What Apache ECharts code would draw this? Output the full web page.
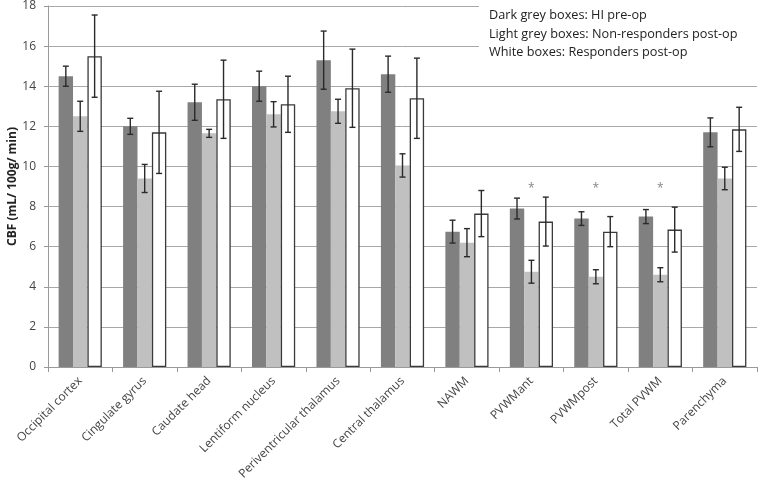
<!DOCTYPE html>
<html>
<head>
<meta charset="utf-8">
<script src="https://cdn.jsdelivr.net/npm/echarts@6/dist/echarts.min.js"></script>
<style>html,body{margin:0;padding:0;background:#fff}#c{width:760px;height:480px}</style>
</head>
<body>
<div id="c"></div>
<script>
var categories = ['Occipital cortex','Cingulate gyrus','Caudate head','Lentiform nucleus','Periventricular thalamus','Central thalamus','NAWM','PVWMant','PVWMpost','Total PVWM','Parenchyma'];
var preOp      = [14.5, 12.0, 13.2, 14.0, 15.3, 14.6, 6.75, 7.9, 7.4, 7.5, 11.7];
var preOpErr   = [0.5, 0.4, 0.9, 0.75, 1.45, 0.9, 0.57, 0.52, 0.34, 0.35, 0.72];
var nonResp    = [12.5, 9.4, 11.65, 12.6, 12.75, 10.05, 6.2, 4.75, 4.5, 4.6, 9.4];
var nonRespErr = [0.75, 0.7, 0.2, 0.63, 0.6, 0.58, 0.7, 0.57, 0.35, 0.35, 0.56];
var resp       = [15.5, 11.7, 13.35, 13.1, 13.9, 13.4, 7.65, 7.25, 6.75, 6.85, 11.85];
var respErr    = [2.05, 2.05, 1.95, 1.4, 1.95, 2.0, 1.15, 1.22, 0.75, 1.12, 1.1];
var significant = [0,0,0,0,0,0,0,1,1,1,0];
var asteriskLevel = 8.9;
var legendLines = ['Dark grey boxes: HI pre-op','Light grey boxes: Non-responders post-op','White boxes: Responders post-op'];

var CAT_GAP = 0.33;
function errSeries(vals, errs, idx){
  return {
    type:'custom', z:10, silent:true,
    data: categories.map(function(c,i){return [i, vals[i]-errs[i], vals[i]+errs[i]];}),
    encode:{x:0, y:[1,2]},
    renderItem:function(params, api){
      var i = api.value(0);
      var x = api.coord([i,0])[0];
      var band = api.size([1,0])[0];
      var bw = band*(1-CAT_GAP)/3;
      var cx = x + (idx-1)*bw;
      var lo = api.coord([i, api.value(1)])[1];
      var hi = api.coord([i, api.value(2)])[1];
      var st = {stroke:'#2a2a2a', lineWidth:1.4};
      return {type:'group', children:[
        {type:'line', shape:{x1:cx,y1:lo,x2:cx,y2:hi}, style:st},
        {type:'line', shape:{x1:cx-3,y1:lo,x2:cx+3,y2:lo}, style:st},
        {type:'line', shape:{x1:cx-3,y1:hi,x2:cx+3,y2:hi}, style:st}
      ]};
    }
  };
}

var chart = echarts.init(document.getElementById('c'));
var font = 'Open Sans, Noto Sans, sans-serif';
chart.setOption({
  animation:false,
  textStyle:{fontFamily:font},
  grid:{left:48, right:3, top:6, bottom:113, containLabel:false, outerBoundsMode:'none'},
  xAxis:{
    type:'category', data:categories,
    axisLine:{lineStyle:{color:'#9a9a9a', width:1}},
    axisTick:{show:true, length:5, lineStyle:{color:'#9a9a9a'}},
    axisLabel:{rotate:45, fontSize:12, color:'#444', fontFamily:font, margin:12, interval:0}
  },
  yAxis:{
    type:'value', min:0, max:18, interval:2,
    name:'CBF (mL/ 100g/ min)', nameLocation:'middle', nameGap:29, nameRotate:90,
    nameMoveOverlap:false,
    nameTextStyle:{fontSize:12, fontWeight:'bold', color:'#222', fontFamily:font},
    axisLine:{show:true, lineStyle:{color:'#9a9a9a'}},
    axisTick:{show:true, length:4, lineStyle:{color:'#9a9a9a'}},
    axisLabel:{fontSize:12, color:'#444', margin:12, fontFamily:font},
    splitLine:{lineStyle:{color:'#a8a8a8', width:1}}
  },
  series:[
    {type:'bar', data:preOp, barGap:'0%', barCategoryGap:(CAT_GAP*100)+'%', itemStyle:{color:'#808080'}},
    {type:'bar', data:nonResp, itemStyle:{color:'#c0c0c0'}},
    {type:'bar', data:resp, itemStyle:{color:'#ffffff', borderColor:'#3a3a3a', borderWidth:1.3}},
    errSeries(preOp, preOpErr, 0),
    errSeries(nonResp, nonRespErr, 1),
    errSeries(resp, respErr, 2),
    {type:'scatter', symbolSize:0, silent:true, z:11,
     data: categories.map(function(c,i){return significant[i] ? [i, asteriskLevel] : null;}).filter(function(d){return d;}),
     label:{show:true, position:'inside', formatter:'*', fontSize:12, color:'#666', fontFamily:font}}
  ],
  graphic:[
    {type:'rect', left:479, top:0, z:50, shape:{width:281, height:70}, style:{fill:'#fff'}},
    {type:'text', left:489, top:9, z:51, style:{text:legendLines[0], fontSize:12.7, fill:'#222', fontFamily:font}},
    {type:'text', left:489, top:27.5, z:51, style:{text:legendLines[1], fontSize:12.7, fill:'#222', fontFamily:font}},
    {type:'text', left:489, top:46, z:51, style:{text:legendLines[2], fontSize:12.7, fill:'#222', fontFamily:font}}
  ]
});
</script>
</body>
</html>
